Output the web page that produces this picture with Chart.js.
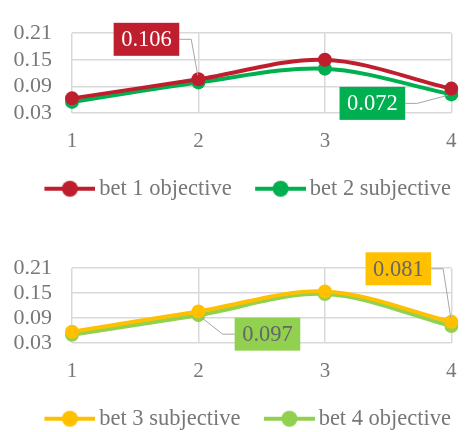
<!DOCTYPE html>
<html>
<head>
<meta charset="utf-8">
<script src="https://cdn.jsdelivr.net/npm/chart.js@4.4.0/dist/chart.umd.min.js"></script>
<style>
  html, body { margin: 0; padding: 0; background: #fff; overflow: hidden; }
  body { width: 472px; height: 432px; position: relative; }
  canvas { position: absolute; left: 0; }
  #chartTop { top: 0; }
  #chartBottom { top: 235px; }
</style>
</head>
<body>
<canvas id="chartTop" width="472" height="210"></canvas>
<canvas id="chartBottom" width="472" height="205"></canvas>
<script>
// Rounds on the x axis and the fixed y ticks
const rounds = ['1', '2', '3', '4'];
const yTicks = [0.03, 0.09, 0.15, 0.21];

// Series values per round
const bet1Objective = [0.063, 0.106, 0.150, 0.085];
const bet2Subjective = [0.055, 0.099, 0.130, 0.072];
const bet3Subjective = [0.057, 0.106, 0.154, 0.081];
const bet4Objective = [0.050, 0.097, 0.148, 0.071];

const TEXT = '#777777';
const GRID = '#d9d9d9';
const SERIF = '"Liberation Serif", "Times New Roman", serif';

// legend box is wider than the marker; the marker sits toward the text
const LEGEND_BOX = 67;
const ICON_SHIFT = 15.5;

function legendIcon(color) {
    const half = 25.5 + ICON_SHIFT;
    const c = document.createElement('canvas');
    c.width = Math.ceil(half * 2); c.height = 18;
    const g = c.getContext('2d');
    const mid = c.width / 2 + ICON_SHIFT;
    g.strokeStyle = color; g.lineWidth = 4;
    g.beginPath(); g.moveTo(mid - 25.5, 9); g.lineTo(mid + 25.5, 9); g.stroke();
    g.fillStyle = color;
    g.beginPath(); g.arc(mid, 9, 8, 0, Math.PI * 2); g.fill();
    return c;
}

// boxed value tags with a bent leader line
const valueTags = {
    id: 'valueTags',
    afterDatasetsDraw(chart, args, opts) {
        const ctx = chart.ctx;
        ctx.save();
        ctx.font = '22.5px ' + SERIF;
        (opts.tags || []).forEach(t => {
            const pt = chart.getDatasetMeta(t.dataset).data[t.index];
            const text = chart.data.datasets[t.dataset].data[t.index].toFixed(3);
            const w = ctx.measureText(text).width + 15, h = 33;
            const cx = pt.x + t.dx, cy = pt.y + t.dy;
            const dir = t.side === 'right' ? 1 : -1;
            const edge = cx + dir * w / 2;
            const elbow = edge + dir * 12;
            const ang = Math.atan2(cy - pt.y, elbow - pt.x);
            ctx.strokeStyle = '#a6a6a6';
            ctx.lineWidth = 1;
            ctx.beginPath();
            ctx.moveTo(edge, cy);
            ctx.lineTo(elbow, cy);
            ctx.lineTo(pt.x + Math.cos(ang) * 4, pt.y + Math.sin(ang) * 4);
            ctx.stroke();
            ctx.fillStyle = t.bg;
            ctx.fillRect(cx - w / 2, cy - h / 2, w, h);
            ctx.fillStyle = t.fg;
            ctx.textAlign = 'center';
            ctx.textBaseline = 'middle';
            ctx.fillText(text, cx, cy + 1);
        });
        ctx.restore();
    }
};

function series(label, data, color) {
    return {
        label, data,
        borderColor: color, backgroundColor: color,
        pointBackgroundColor: color, pointBorderColor: color,
        borderWidth: 4, pointRadius: 7, pointBorderWidth: 0, pointHoverRadius: 7,
        tension: 0.33
    };
}

function makeChart(id, datasets, tags) {
    return new Chart(document.getElementById(id), {
        type: 'line',
        data: { labels: rounds, datasets },
        plugins: [valueTags],
        options: {
            responsive: false,
            animation: false,
            layout: { padding: { top: 16, right: 0, left: 0, bottom: 0 } },
            plugins: {
                tooltip: { enabled: false },
                valueTags: { tags },
                legend: {
                    position: 'bottom',
                    align: 'center',
                    labels: {
                        usePointStyle: true,
                        pointStyleWidth: LEGEND_BOX,
                        padding: 0,
                        color: TEXT,
                        font: { family: SERIF, size: 22.5 },
                        generateLabels: chart => chart.data.datasets.map((ds, i) => ({
                            text: ds.label,
                            pointStyle: legendIcon(ds.borderColor),
                            fillStyle: ds.borderColor,
                            strokeStyle: ds.borderColor,
                            lineWidth: 0,
                            fontColor: TEXT,
                            hidden: false,
                            datasetIndex: i
                        }))
                    }
                }
            },
            scales: {
                x: {
                    offset: false,
                    grid: { color: GRID, lineWidth: 1.5, drawTicks: false },
                    border: { display: false },
                    ticks: { color: TEXT, padding: 15.4, font: { family: SERIF, size: 21 } },
                    afterFit: s => { s.height = 64.5; }
                },
                y: {
                    min: 0.03, max: 0.21,
                    grid: { color: GRID, lineWidth: 1.5, drawTicks: false },
                    border: { display: false },
                    afterBuildTicks: s => { s.ticks = yTicks.map(v => ({ value: v })); },
                    ticks: {
                        color: TEXT, padding: 20, autoSkip: false,
                        font: { family: SERIF, size: 22 },
                        callback: v => v.toFixed(2)
                    },
                    afterFit: s => { s.width = 72; }
                },
                // empty strip on the right so the plot stops short of the edge
                yGap: {
                    type: 'linear',
                    position: 'right',
                    grid: { display: false, drawTicks: false },
                    border: { display: false },
                    ticks: { display: false },
                    afterFit: s => { s.width = 13; }
                }
            }
        }
    });
}

makeChart('chartTop', [
    series('bet 1 objective', bet1Objective, '#BE1E2D'),
    series('bet 2 subjective', bet2Subjective, '#00B050')
], [
    { dataset: 0, index: 1, dx: -52, dy: -40, bg: '#BE1E2D', fg: '#ffffff', side: 'right' },
    { dataset: 1, index: 3, dx: -79, dy: 9, bg: '#00B050', fg: '#ffffff', side: 'right' }
]);

makeChart('chartBottom', [
    series('bet 3 subjective', bet3Subjective, '#FFC000'),
    series('bet 4 objective', bet4Objective, '#92D050')
], [
    { dataset: 0, index: 3, dx: -53, dy: -53, bg: '#FFC000', fg: '#666666', side: 'right' },
    { dataset: 1, index: 1, dx: 69, dy: 19, bg: '#92D050', fg: '#666666', side: 'left' }
]);
</script>
</body>
</html>
